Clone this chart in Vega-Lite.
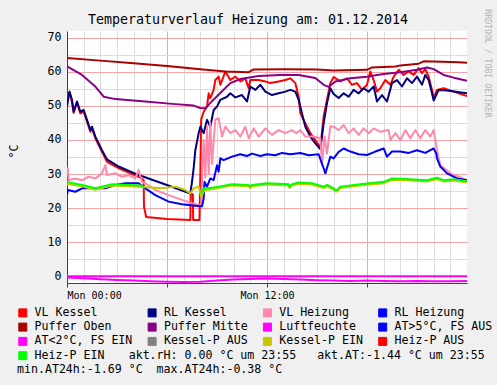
{
  "$schema": "https://vega.github.io/schema/vega-lite/v6.json",
  "width": 400,
  "height": 252,
  "autosize": "none",
  "padding": {"left": 67, "top": 31, "right": 30, "bottom": 102},
  "background": "#f0f0f0",
  "config": {
    "view": {"stroke": null, "fill": "#ffffff"},
    "font": "DejaVu Sans Mono"
  },
  "title": {
    "text": "Temperaturverlauf Heizung am: 01.12.2014",
    "anchor": "middle",
    "frame": "group",
    "dx": -19,
    "dy": 39,
    "offset": 10,
    "baseline": "alphabetic",
    "font": "DejaVu Sans Mono",
    "fontSize": 13.3,
    "fontWeight": "normal",
    "color": "#000000"
  },
  "data": {
    "values": [
      {"s":"VL Kessel","h":0,"v":52},{"s":"VL Kessel","h":0.15,"v":54},{"s":"VL Kessel","h":0.3,"v":51},{"s":"VL Kessel","h":0.4,"v":48},{"s":"VL Kessel","h":0.6,"v":51},{"s":"VL Kessel","h":0.8,"v":47.8},{"s":"VL Kessel","h":1.0,"v":48.3},{"s":"VL Kessel","h":1.2,"v":45.4},{"s":"VL Kessel","h":1.4,"v":42.4},{"s":"VL Kessel","h":1.5,"v":43.4},{"s":"VL Kessel","h":1.7,"v":40.5},{"s":"VL Kessel","h":2.1,"v":36.5},{"s":"VL Kessel","h":2.4,"v":33.6},{"s":"VL Kessel","h":3.1,"v":31.7},{"s":"VL Kessel","h":4.3,"v":29.2},{"s":"VL Kessel","h":4.6,"v":28.2},{"s":"VL Kessel","h":4.62,"v":20.4},{"s":"VL Kessel","h":4.75,"v":17.4},{"s":"VL Kessel","h":6.0,"v":16.8},{"s":"VL Kessel","h":7.4,"v":16.5},{"s":"VL Kessel","h":7.42,"v":24.3},{"s":"VL Kessel","h":7.55,"v":24},{"s":"VL Kessel","h":7.57,"v":16.5},{"s":"VL Kessel","h":7.95,"v":16.5},{"s":"VL Kessel","h":8.0,"v":30},{"s":"VL Kessel","h":8.05,"v":46},{"s":"VL Kessel","h":8.2,"v":48.3},{"s":"VL Kessel","h":8.4,"v":49.8},{"s":"VL Kessel","h":8.5,"v":53.7},{"s":"VL Kessel","h":8.6,"v":52.3},{"s":"VL Kessel","h":8.8,"v":54.7},{"s":"VL Kessel","h":8.9,"v":57.6},{"s":"VL Kessel","h":9.1,"v":58.6},{"s":"VL Kessel","h":9.2,"v":56.2},{"s":"VL Kessel","h":9.5,"v":60.1},{"s":"VL Kessel","h":9.8,"v":57.6},{"s":"VL Kessel","h":10.1,"v":58.6},{"s":"VL Kessel","h":10.4,"v":57.2},{"s":"VL Kessel","h":10.7,"v":58.1},{"s":"VL Kessel","h":10.9,"v":55.2},{"s":"VL Kessel","h":11.0,"v":57.6},{"s":"VL Kessel","h":11.5,"v":57.6},{"s":"VL Kessel","h":11.9,"v":57.2},{"s":"VL Kessel","h":12.2,"v":56.7},{"s":"VL Kessel","h":12.7,"v":57.2},{"s":"VL Kessel","h":13.1,"v":57.6},{"s":"VL Kessel","h":13.4,"v":58.1},{"s":"VL Kessel","h":13.7,"v":56.7},{"s":"VL Kessel","h":13.9,"v":52.7},{"s":"VL Kessel","h":14.0,"v":47.8},{"s":"VL Kessel","h":14.3,"v":44.9},{"s":"VL Kessel","h":14.6,"v":42},{"s":"VL Kessel","h":14.9,"v":40},{"s":"VL Kessel","h":15.1,"v":38.5},{"s":"VL Kessel","h":15.2,"v":37.6},{"s":"VL Kessel","h":15.4,"v":46.9},{"s":"VL Kessel","h":15.6,"v":51.8},{"s":"VL Kessel","h":15.8,"v":56.7},{"s":"VL Kessel","h":16.0,"v":58.5},{"s":"VL Kessel","h":16.4,"v":57.2},{"s":"VL Kessel","h":16.8,"v":58.1},{"s":"VL Kessel","h":17.1,"v":56.2},{"s":"VL Kessel","h":17.4,"v":56.7},{"s":"VL Kessel","h":17.7,"v":54.7},{"s":"VL Kessel","h":18.0,"v":56.2},{"s":"VL Kessel","h":18.2,"v":60.1},{"s":"VL Kessel","h":18.4,"v":57.6},{"s":"VL Kessel","h":18.6,"v":54.2},{"s":"VL Kessel","h":18.8,"v":55.2},{"s":"VL Kessel","h":19.1,"v":57.6},{"s":"VL Kessel","h":19.4,"v":56.2},{"s":"VL Kessel","h":19.6,"v":58.6},{"s":"VL Kessel","h":19.9,"v":60.6},{"s":"VL Kessel","h":20.2,"v":59.1},{"s":"VL Kessel","h":20.5,"v":60.1},{"s":"VL Kessel","h":20.8,"v":59.1},{"s":"VL Kessel","h":21.1,"v":61.1},{"s":"VL Kessel","h":21.3,"v":59.6},{"s":"VL Kessel","h":21.5,"v":60.8},{"s":"VL Kessel","h":21.7,"v":58.6},{"s":"VL Kessel","h":21.9,"v":54.7},{"s":"VL Kessel","h":22.0,"v":52.3},{"s":"VL Kessel","h":22.2,"v":54.7},{"s":"VL Kessel","h":22.6,"v":55.2},{"s":"VL Kessel","h":23.2,"v":54.2},{"s":"VL Kessel","h":24,"v":52.9},

      {"s":"RL Kessel","h":0,"v":49.8},{"s":"RL Kessel","h":0.15,"v":54.2},{"s":"RL Kessel","h":0.3,"v":51.8},{"s":"RL Kessel","h":0.4,"v":48.3},{"s":"RL Kessel","h":0.6,"v":51.3},{"s":"RL Kessel","h":0.8,"v":48.3},{"s":"RL Kessel","h":1.0,"v":48.8},{"s":"RL Kessel","h":1.2,"v":45.9},{"s":"RL Kessel","h":1.4,"v":42.9},{"s":"RL Kessel","h":1.5,"v":43.9},{"s":"RL Kessel","h":1.7,"v":41},{"s":"RL Kessel","h":2.1,"v":37},{"s":"RL Kessel","h":2.4,"v":34.3},{"s":"RL Kessel","h":3.1,"v":32.2},{"s":"RL Kessel","h":4.3,"v":29.7},{"s":"RL Kessel","h":5.7,"v":27.3},{"s":"RL Kessel","h":7.4,"v":24.3},{"s":"RL Kessel","h":7.5,"v":27.7},{"s":"RL Kessel","h":7.6,"v":31.7},{"s":"RL Kessel","h":7.7,"v":37},{"s":"RL Kessel","h":7.9,"v":42},{"s":"RL Kessel","h":8.0,"v":43.9},{"s":"RL Kessel","h":8.2,"v":42},{"s":"RL Kessel","h":8.4,"v":45.9},{"s":"RL Kessel","h":8.6,"v":43.9},{"s":"RL Kessel","h":8.8,"v":48.8},{"s":"RL Kessel","h":9.0,"v":49.8},{"s":"RL Kessel","h":9.2,"v":51.8},{"s":"RL Kessel","h":9.6,"v":52.7},{"s":"RL Kessel","h":9.8,"v":53.7},{"s":"RL Kessel","h":10.1,"v":52.5},{"s":"RL Kessel","h":10.5,"v":53.2},{"s":"RL Kessel","h":10.8,"v":51.3},{"s":"RL Kessel","h":11.0,"v":55.7},{"s":"RL Kessel","h":11.3,"v":54.7},{"s":"RL Kessel","h":11.6,"v":56.2},{"s":"RL Kessel","h":11.9,"v":54.2},{"s":"RL Kessel","h":12.3,"v":53.2},{"s":"RL Kessel","h":12.7,"v":53.7},{"s":"RL Kessel","h":13.1,"v":54.2},{"s":"RL Kessel","h":13.4,"v":54.7},{"s":"RL Kessel","h":13.7,"v":54.2},{"s":"RL Kessel","h":13.9,"v":51.8},{"s":"RL Kessel","h":14.1,"v":47.8},{"s":"RL Kessel","h":14.3,"v":43.9},{"s":"RL Kessel","h":14.6,"v":41},{"s":"RL Kessel","h":14.9,"v":39},{"s":"RL Kessel","h":15.2,"v":37.3},{"s":"RL Kessel","h":15.4,"v":44.9},{"s":"RL Kessel","h":15.6,"v":50.8},{"s":"RL Kessel","h":15.8,"v":55.2},{"s":"RL Kessel","h":16.0,"v":53.5},{"s":"RL Kessel","h":16.3,"v":52.3},{"s":"RL Kessel","h":16.6,"v":53.7},{"s":"RL Kessel","h":16.9,"v":52.7},{"s":"RL Kessel","h":17.2,"v":54.7},{"s":"RL Kessel","h":17.5,"v":53.7},{"s":"RL Kessel","h":17.8,"v":55.2},{"s":"RL Kessel","h":18.1,"v":54.2},{"s":"RL Kessel","h":18.4,"v":55.7},{"s":"RL Kessel","h":18.6,"v":51.3},{"s":"RL Kessel","h":18.9,"v":53.2},{"s":"RL Kessel","h":19.2,"v":51.3},{"s":"RL Kessel","h":19.5,"v":56.7},{"s":"RL Kessel","h":19.8,"v":57.6},{"s":"RL Kessel","h":20.1,"v":55.7},{"s":"RL Kessel","h":20.4,"v":58.1},{"s":"RL Kessel","h":20.7,"v":56.7},{"s":"RL Kessel","h":21.0,"v":58.6},{"s":"RL Kessel","h":21.3,"v":56.2},{"s":"RL Kessel","h":21.5,"v":59.1},{"s":"RL Kessel","h":21.7,"v":57.6},{"s":"RL Kessel","h":21.9,"v":53.7},{"s":"RL Kessel","h":22.0,"v":51.6},{"s":"RL Kessel","h":22.3,"v":54.7},{"s":"RL Kessel","h":22.8,"v":54.5},{"s":"RL Kessel","h":24,"v":53.7},

      {"s":"VL Heizung","h":0,"v":29.7},{"s":"VL Heizung","h":0.05,"v":31.7},{"s":"VL Heizung","h":0.1,"v":28.2},{"s":"VL Heizung","h":0.5,"v":28.7},{"s":"VL Heizung","h":0.9,"v":28.2},{"s":"VL Heizung","h":1.3,"v":29.2},{"s":"VL Heizung","h":1.7,"v":28.7},{"s":"VL Heizung","h":2.1,"v":30.2},{"s":"VL Heizung","h":2.3,"v":32.6},{"s":"VL Heizung","h":2.4,"v":29.7},{"s":"VL Heizung","h":2.9,"v":30.2},{"s":"VL Heizung","h":3.3,"v":29.2},{"s":"VL Heizung","h":3.7,"v":29.7},{"s":"VL Heizung","h":4.1,"v":28.7},{"s":"VL Heizung","h":4.3,"v":31.2},{"s":"VL Heizung","h":4.5,"v":27.7},{"s":"VL Heizung","h":4.7,"v":27.3},{"s":"VL Heizung","h":5.3,"v":25.3},{"s":"VL Heizung","h":6.1,"v":23.8},{"s":"VL Heizung","h":6.9,"v":22.4},{"s":"VL Heizung","h":7.5,"v":21.4},{"s":"VL Heizung","h":7.9,"v":20.9},{"s":"VL Heizung","h":8.05,"v":20.6},{"s":"VL Heizung","h":8.1,"v":28},{"s":"VL Heizung","h":8.2,"v":40},{"s":"VL Heizung","h":8.3,"v":29},{"s":"VL Heizung","h":8.4,"v":44},{"s":"VL Heizung","h":8.5,"v":30},{"s":"VL Heizung","h":8.6,"v":45},{"s":"VL Heizung","h":8.7,"v":33},{"s":"VL Heizung","h":8.9,"v":46},{"s":"VL Heizung","h":9.1,"v":46.4},{"s":"VL Heizung","h":9.3,"v":41},{"s":"VL Heizung","h":9.5,"v":43.9},{"s":"VL Heizung","h":9.8,"v":42},{"s":"VL Heizung","h":10.1,"v":42.9},{"s":"VL Heizung","h":10.4,"v":41},{"s":"VL Heizung","h":10.7,"v":43.9},{"s":"VL Heizung","h":10.9,"v":40.5},{"s":"VL Heizung","h":11.2,"v":43.4},{"s":"VL Heizung","h":11.5,"v":41},{"s":"VL Heizung","h":11.9,"v":43.4},{"s":"VL Heizung","h":12.3,"v":41.5},{"s":"VL Heizung","h":12.7,"v":42.9},{"s":"VL Heizung","h":13.1,"v":42},{"s":"VL Heizung","h":13.5,"v":42.9},{"s":"VL Heizung","h":13.75,"v":42},{"s":"VL Heizung","h":14.0,"v":42.9},{"s":"VL Heizung","h":14.3,"v":41},{"s":"VL Heizung","h":14.8,"v":41},{"s":"VL Heizung","h":15.2,"v":40.5},{"s":"VL Heizung","h":15.3,"v":33},{"s":"VL Heizung","h":15.45,"v":41},{"s":"VL Heizung","h":15.6,"v":36},{"s":"VL Heizung","h":15.8,"v":44},{"s":"VL Heizung","h":16.0,"v":43.9},{"s":"VL Heizung","h":16.3,"v":42.9},{"s":"VL Heizung","h":16.6,"v":44.4},{"s":"VL Heizung","h":16.9,"v":42},{"s":"VL Heizung","h":17.2,"v":43.4},{"s":"VL Heizung","h":17.5,"v":41.5},{"s":"VL Heizung","h":17.8,"v":43.4},{"s":"VL Heizung","h":18.1,"v":42},{"s":"VL Heizung","h":18.4,"v":43.4},{"s":"VL Heizung","h":18.8,"v":42.4},{"s":"VL Heizung","h":19.3,"v":42.9},{"s":"VL Heizung","h":19.4,"v":40},{"s":"VL Heizung","h":19.7,"v":42},{"s":"VL Heizung","h":20.0,"v":40},{"s":"VL Heizung","h":20.3,"v":42.9},{"s":"VL Heizung","h":20.6,"v":40.5},{"s":"VL Heizung","h":20.9,"v":42.9},{"s":"VL Heizung","h":21.2,"v":40.5},{"s":"VL Heizung","h":21.5,"v":42.9},{"s":"VL Heizung","h":21.8,"v":41},{"s":"VL Heizung","h":22.0,"v":42.9},{"s":"VL Heizung","h":22.2,"v":37},{"s":"VL Heizung","h":22.4,"v":32.6},{"s":"VL Heizung","h":23.0,"v":30.2},{"s":"VL Heizung","h":24,"v":28.2},

      {"s":"RL Heizung","h":0,"v":23.8},{"s":"RL Heizung","h":0.05,"v":25.3},{"s":"RL Heizung","h":0.5,"v":24.8},{"s":"RL Heizung","h":0.9,"v":25.8},{"s":"RL Heizung","h":1.7,"v":25.8},{"s":"RL Heizung","h":2.3,"v":25.8},{"s":"RL Heizung","h":2.9,"v":26.8},{"s":"RL Heizung","h":3.5,"v":27.3},{"s":"RL Heizung","h":4.3,"v":27.3},{"s":"RL Heizung","h":4.7,"v":25.8},{"s":"RL Heizung","h":5.3,"v":23.8},{"s":"RL Heizung","h":6.1,"v":21.9},{"s":"RL Heizung","h":6.9,"v":21.1},{"s":"RL Heizung","h":7.7,"v":20.7},{"s":"RL Heizung","h":8.1,"v":20.5},{"s":"RL Heizung","h":8.2,"v":22.8},{"s":"RL Heizung","h":8.25,"v":27.7},{"s":"RL Heizung","h":8.4,"v":26.3},{"s":"RL Heizung","h":8.6,"v":28.7},{"s":"RL Heizung","h":8.8,"v":28.2},{"s":"RL Heizung","h":9.0,"v":32.6},{"s":"RL Heizung","h":9.1,"v":30.7},{"s":"RL Heizung","h":9.2,"v":34.6},{"s":"RL Heizung","h":9.4,"v":34.1},{"s":"RL Heizung","h":9.9,"v":35.1},{"s":"RL Heizung","h":10.4,"v":35.8},{"s":"RL Heizung","h":10.8,"v":35.3},{"s":"RL Heizung","h":11.1,"v":36},{"s":"RL Heizung","h":11.6,"v":35.3},{"s":"RL Heizung","h":12.0,"v":35.8},{"s":"RL Heizung","h":12.5,"v":35.5},{"s":"RL Heizung","h":12.9,"v":36.2},{"s":"RL Heizung","h":13.4,"v":35.8},{"s":"RL Heizung","h":14.0,"v":36.2},{"s":"RL Heizung","h":14.5,"v":35.5},{"s":"RL Heizung","h":15.1,"v":35.8},{"s":"RL Heizung","h":15.3,"v":33},{"s":"RL Heizung","h":15.4,"v":31.7},{"s":"RL Heizung","h":15.5,"v":30.2},{"s":"RL Heizung","h":15.65,"v":32.6},{"s":"RL Heizung","h":15.8,"v":35.1},{"s":"RL Heizung","h":16.0,"v":34.6},{"s":"RL Heizung","h":16.3,"v":36.5},{"s":"RL Heizung","h":16.6,"v":37.5},{"s":"RL Heizung","h":17.0,"v":36.6},{"s":"RL Heizung","h":17.5,"v":35.8},{"s":"RL Heizung","h":18.0,"v":35.6},{"s":"RL Heizung","h":18.5,"v":36.6},{"s":"RL Heizung","h":19.0,"v":37.5},{"s":"RL Heizung","h":19.2,"v":35.1},{"s":"RL Heizung","h":19.5,"v":36.6},{"s":"RL Heizung","h":20.0,"v":36.6},{"s":"RL Heizung","h":20.5,"v":36.2},{"s":"RL Heizung","h":21.0,"v":37},{"s":"RL Heizung","h":21.5,"v":36.2},{"s":"RL Heizung","h":22.0,"v":37.5},{"s":"RL Heizung","h":22.15,"v":36.1},{"s":"RL Heizung","h":22.2,"v":34.6},{"s":"RL Heizung","h":22.4,"v":32.2},{"s":"RL Heizung","h":22.8,"v":30.2},{"s":"RL Heizung","h":23.4,"v":28.7},{"s":"RL Heizung","h":24,"v":28.2},

      {"s":"Puffer Oben","h":0,"v":64.1},{"s":"Puffer Oben","h":2,"v":63.3},{"s":"Puffer Oben","h":4,"v":62.5},{"s":"Puffer Oben","h":6,"v":61.7},{"s":"Puffer Oben","h":8,"v":60.8},{"s":"Puffer Oben","h":9.5,"v":60.1},{"s":"Puffer Oben","h":10.9,"v":59.9},{"s":"Puffer Oben","h":11.2,"v":60.7},{"s":"Puffer Oben","h":13,"v":60.8},{"s":"Puffer Oben","h":15,"v":60.7},{"s":"Puffer Oben","h":16,"v":60.4},{"s":"Puffer Oben","h":18,"v":60.6},{"s":"Puffer Oben","h":18.3,"v":61.3},{"s":"Puffer Oben","h":19.7,"v":61.6},{"s":"Puffer Oben","h":20,"v":61.9},{"s":"Puffer Oben","h":21.1,"v":62.4},{"s":"Puffer Oben","h":21.4,"v":63.1},{"s":"Puffer Oben","h":22.5,"v":63},{"s":"Puffer Oben","h":23.5,"v":62.8},{"s":"Puffer Oben","h":24,"v":62.7},

      {"s":"Puffer Mitte","h":0,"v":61.6},{"s":"Puffer Mitte","h":0.9,"v":59.1},{"s":"Puffer Mitte","h":1.7,"v":55.7},{"s":"Puffer Mitte","h":2.2,"v":52.7},{"s":"Puffer Mitte","h":2.9,"v":52},{"s":"Puffer Mitte","h":4.7,"v":51.3},{"s":"Puffer Mitte","h":6.3,"v":50.6},{"s":"Puffer Mitte","h":7.6,"v":50.1},{"s":"Puffer Mitte","h":8.0,"v":49.4},{"s":"Puffer Mitte","h":8.3,"v":49.3},{"s":"Puffer Mitte","h":8.6,"v":50.9},{"s":"Puffer Mitte","h":9.2,"v":53.8},{"s":"Puffer Mitte","h":9.8,"v":56.7},{"s":"Puffer Mitte","h":10.4,"v":57.9},{"s":"Puffer Mitte","h":11.5,"v":58.8},{"s":"Puffer Mitte","h":12.8,"v":59.1},{"s":"Puffer Mitte","h":13.9,"v":59.1},{"s":"Puffer Mitte","h":14.9,"v":58.2},{"s":"Puffer Mitte","h":15.4,"v":56.2},{"s":"Puffer Mitte","h":15.7,"v":55.6},{"s":"Puffer Mitte","h":16.1,"v":57.2},{"s":"Puffer Mitte","h":17,"v":58.1},{"s":"Puffer Mitte","h":18,"v":58.6},{"s":"Puffer Mitte","h":19,"v":59.4},{"s":"Puffer Mitte","h":20,"v":59.9},{"s":"Puffer Mitte","h":21,"v":60.6},{"s":"Puffer Mitte","h":21.6,"v":61.3},{"s":"Puffer Mitte","h":22,"v":60.8},{"s":"Puffer Mitte","h":22.6,"v":59.1},{"s":"Puffer Mitte","h":23.2,"v":58.3},{"s":"Puffer Mitte","h":24,"v":57.4},

      {"s":"Luftfeuchte","h":0,"v":0},{"s":"Luftfeuchte","h":24,"v":0},

      {"s":"AT<2°C, FS EIN","h":0,"v":-0.4},{"s":"AT<2°C, FS EIN","h":1,"v":-0.6},{"s":"AT<2°C, FS EIN","h":2,"v":-0.9},{"s":"AT<2°C, FS EIN","h":3,"v":-1.1},{"s":"AT<2°C, FS EIN","h":4,"v":-1.3},{"s":"AT<2°C, FS EIN","h":5,"v":-1.5},{"s":"AT<2°C, FS EIN","h":6,"v":-1.6},{"s":"AT<2°C, FS EIN","h":7,"v":-1.69},{"s":"AT<2°C, FS EIN","h":8,"v":-1.6},{"s":"AT<2°C, FS EIN","h":9,"v":-1.3},{"s":"AT<2°C, FS EIN","h":10,"v":-1.0},{"s":"AT<2°C, FS EIN","h":11,"v":-0.8},{"s":"AT<2°C, FS EIN","h":12,"v":-0.7},{"s":"AT<2°C, FS EIN","h":13,"v":-0.8},{"s":"AT<2°C, FS EIN","h":14,"v":-1.0},{"s":"AT<2°C, FS EIN","h":15,"v":-1.2},{"s":"AT<2°C, FS EIN","h":16,"v":-1.3},{"s":"AT<2°C, FS EIN","h":17,"v":-1.4},{"s":"AT<2°C, FS EIN","h":18,"v":-1.3},{"s":"AT<2°C, FS EIN","h":19,"v":-1.4},{"s":"AT<2°C, FS EIN","h":20,"v":-1.5},{"s":"AT<2°C, FS EIN","h":21,"v":-1.4},{"s":"AT<2°C, FS EIN","h":22,"v":-1.5},{"s":"AT<2°C, FS EIN","h":23,"v":-1.5},{"s":"AT<2°C, FS EIN","h":24,"v":-1.44},

      {"s":"Kessel-P EIN","h":0,"v":27.1},{"s":"Kessel-P EIN","h":0.9,"v":26.4},{"s":"Kessel-P EIN","h":1.7,"v":25.4},{"s":"Kessel-P EIN","h":2.1,"v":25.9},{"s":"Kessel-P EIN","h":2.7,"v":26.6},{"s":"Kessel-P EIN","h":3.7,"v":26.4},{"s":"Kessel-P EIN","h":4.5,"v":26.2},{"s":"Kessel-P EIN","h":4.65,"v":26.2},{"s":"Kessel-P EIN","h":5.7,"v":25.8},{"s":"Kessel-P EIN","h":6.5,"v":26.3},{"s":"Kessel-P EIN","h":7.1,"v":25.3},{"s":"Kessel-P EIN","h":7.4,"v":24.3},{"s":"Kessel-P EIN","h":7.6,"v":25.8},{"s":"Kessel-P EIN","h":7.9,"v":26.3},{"s":"Kessel-P EIN","h":8.05,"v":23.3},{"s":"Kessel-P EIN","h":8.25,"v":25.3},{"s":"Kessel-P EIN","h":8.5,"v":25.4},{"s":"Kessel-P EIN","h":9.1,"v":25.9},{"s":"Kessel-P EIN","h":9.9,"v":26.6},{"s":"Kessel-P EIN","h":10.9,"v":26.4},{"s":"Kessel-P EIN","h":11.0,"v":25.9},{"s":"Kessel-P EIN","h":11.1,"v":26.4},{"s":"Kessel-P EIN","h":12,"v":26.9},{"s":"Kessel-P EIN","h":13.3,"v":26.6},{"s":"Kessel-P EIN","h":13.35,"v":25.9},{"s":"Kessel-P EIN","h":13.5,"v":26.6},{"s":"Kessel-P EIN","h":13.9,"v":27.1},{"s":"Kessel-P EIN","h":14.7,"v":26.9},{"s":"Kessel-P EIN","h":15.4,"v":25.9},{"s":"Kessel-P EIN","h":15.6,"v":26.4},{"s":"Kessel-P EIN","h":16.0,"v":25.4},{"s":"Kessel-P EIN","h":16.1,"v":24.9},{"s":"Kessel-P EIN","h":16.2,"v":24.9},{"s":"Kessel-P EIN","h":16.4,"v":25.9},{"s":"Kessel-P EIN","h":17.6,"v":26.6},{"s":"Kessel-P EIN","h":19,"v":27.3},{"s":"Kessel-P EIN","h":19.5,"v":28.3},{"s":"Kessel-P EIN","h":20.6,"v":28.1},{"s":"Kessel-P EIN","h":21.6,"v":27.8},{"s":"Kessel-P EIN","h":22.2,"v":28.5},{"s":"Kessel-P EIN","h":22.6,"v":27.8},{"s":"Kessel-P EIN","h":23.2,"v":28.1},{"s":"Kessel-P EIN","h":24,"v":27.5},

      {"s":"Heiz-P EIN","h":0,"v":27.7},{"s":"Heiz-P EIN","h":0.9,"v":26.8},{"s":"Heiz-P EIN","h":1.7,"v":25.8},{"s":"Heiz-P EIN","h":2.1,"v":26.3},{"s":"Heiz-P EIN","h":2.7,"v":27},{"s":"Heiz-P EIN","h":3.7,"v":26.8},{"s":"Heiz-P EIN","h":4.5,"v":26.6},{"s":"Heiz-P EIN","h":4.65,"v":25.8},{"s":"Heiz-P EIN","h":6,"v":null},{"s":"Heiz-P EIN","h":8.05,"v":24.3},{"s":"Heiz-P EIN","h":8.2,"v":25.8},{"s":"Heiz-P EIN","h":8.5,"v":25.8},{"s":"Heiz-P EIN","h":9.1,"v":26.3},{"s":"Heiz-P EIN","h":9.9,"v":27},{"s":"Heiz-P EIN","h":10.9,"v":26.8},{"s":"Heiz-P EIN","h":11.0,"v":26.3},{"s":"Heiz-P EIN","h":11.1,"v":26.8},{"s":"Heiz-P EIN","h":12,"v":27.3},{"s":"Heiz-P EIN","h":13.3,"v":27},{"s":"Heiz-P EIN","h":13.35,"v":26.3},{"s":"Heiz-P EIN","h":13.5,"v":27},{"s":"Heiz-P EIN","h":13.9,"v":27.5},{"s":"Heiz-P EIN","h":14.7,"v":27.3},{"s":"Heiz-P EIN","h":15.4,"v":26.3},{"s":"Heiz-P EIN","h":15.6,"v":26.8},{"s":"Heiz-P EIN","h":16.0,"v":25.8},{"s":"Heiz-P EIN","h":16.1,"v":25.3},{"s":"Heiz-P EIN","h":16.2,"v":25.3},{"s":"Heiz-P EIN","h":16.4,"v":26.3},{"s":"Heiz-P EIN","h":17.6,"v":27},{"s":"Heiz-P EIN","h":19,"v":27.7},{"s":"Heiz-P EIN","h":19.5,"v":28.7},{"s":"Heiz-P EIN","h":20.6,"v":28.5},{"s":"Heiz-P EIN","h":21.6,"v":28.2},{"s":"Heiz-P EIN","h":22.2,"v":28.9},{"s":"Heiz-P EIN","h":22.6,"v":28.2},{"s":"Heiz-P EIN","h":23.2,"v":28.5},{"s":"Heiz-P EIN","h":24,"v":27.9}
    ]
  },
  "layer": [
    {
      "transform": [{"filter": "datum.s == 'VL Kessel'"}],
      "mark": {"type": "line", "strokeWidth": 2, "strokeJoin": "round", "clip": true},
      "encoding": {
        "x": {
          "field": "h", "type": "quantitative",
          "scale": {"domain": [0, 24], "nice": false, "zero": false},
          "axis": {"orient": "top", "values": [1,2,3,4,5,7,8,9,10,11,13,14,15,16,17,19,20,21,22,23], "grid": true, "gridColor": "#dcdcdc", "gridWidth": 1, "labels": false, "ticks": false, "domain": false, "title": null}
        },
        "y": {
          "field": "v", "type": "quantitative",
          "scale": {"domain": [-2, 72], "nice": false, "zero": false},
          "axis": {"orient": "right", "values": [5,15,25,35,45,55,65], "grid": true, "gridColor": "#dcdcdc", "gridWidth": 1, "labels": false, "ticks": false, "domain": false,
                   "title": "RRDTOOL / TOBI OETIKER", "titleAngle": 90, "titleX": 19, "titleY": 32, "titleBaseline": "middle", "titleAlign": "center", "titleColor": "#b4b4b4", "titleFont": "DejaVu Sans Mono", "titleFontSize": 8.2, "titleFontWeight": "normal"}
        },
        "color": {
          "field": "s", "type": "nominal",
          "scale": {
            "domain": ["VL Kessel","RL Kessel","VL Heizung","RL Heizung","Puffer Oben","Puffer Mitte","Luftfeuchte","AT>5°C, FS AUS","AT<2°C, FS EIN","Kessel-P AUS","Kessel-P EIN","Heiz-P AUS","Heiz-P EIN"],
            "range": ["#ff0000","#000080","#ff88aa","#0000ff","#aa0000","#880088","#ff00ff","#0000ff","#ff00ff","#808080","#c8c800","#ff0000","#00ff00"]
          },
          "legend": {
            "orient": "none", "legendX": -50, "legendY": 276,
            "direction": "horizontal", "columns": 4, "gridAlign": "each",
            "columnPadding": 12.3, "rowPadding": 1.3,
            "symbolType": "square", "symbolSize": 64, "symbolStrokeWidth": 1, "symbolStrokeColor": "#000000",
            "labelFont": "DejaVu Sans Mono", "labelFontSize": 11.6, "labelColor": "#000000", "labelOffset": 6, "labelLimit": 300,
            "title": ["\u200b\u00a0\u00a0\u00a0\u00a0\u00a0\u00a0\u00a0\u00a0\u00a0\u00a0\u00a0\u00a0\u00a0\u00a0\u00a0\u00a0akt.rH:\u00a00.00\u00a0°C\u00a0um\u00a023:55\u00a0\u00a0\u00a0akt.AT:-1.44\u00a0°C\u00a0um\u00a023:55", "min.AT24h:-1.69\u00a0°C\u00a0\u00a0max.AT24h:-0.38\u00a0°C"],
            "titleOrient": "bottom", "titleAnchor": "start", "titleAlign": "left", "titleFont": "DejaVu Sans Mono", "titleFontSize": 11.6, "titleFontWeight": "normal", "titleColor": "#000000", "titlePadding": -11.6, "titleLineHeight": 14.1, "titleLimit": 700,
            "encode": {"symbols": {"update": {"fill": {"scale": "color", "field": "value"}, "stroke": {"value": "#000000"}, "strokeWidth": {"value": 1}, "opacity": {"value": 1}}}}
          }
        }
      }
    },
    {
      "transform": [{"filter": "datum.s != 'VL Kessel'"}],
      "mark": {"type": "line", "strokeWidth": 2, "strokeJoin": "round", "clip": true},
      "encoding": {
        "x": {
          "field": "h", "type": "quantitative",
          "scale": {"domain": [0, 24], "nice": false, "zero": false},
          "axis": {"orient": "bottom", "values": [0, 6, 12, 18], "grid": true, "gridColor": "#f4a4a4", "gridWidth": 1,
                   "labelExpr": "datum.value == 0 ? 'Mon 00:00' : (datum.value == 12 ? 'Mon 12:00' : '')",
                   "labelFont": "DejaVu Sans Mono", "labelFontSize": 10, "labelColor": "#000000", "labelPadding": 3,
                   "ticks": true, "tickSize": 4, "tickColor": "#404040", "domain": true, "domainColor": "#404040", "title": null}
        },
        "y": {
          "field": "v", "type": "quantitative",
          "scale": {"domain": [-2, 72], "nice": false, "zero": false},
          "axis": {"orient": "left", "values": [0,10,20,30,40,50,60,70], "grid": true, "gridColor": "#f4a4a4", "gridWidth": 1,
                   "labelFont": "DejaVu Sans Mono", "labelFontSize": 11.6, "labelColor": "#000000", "labelPadding": 6,
                   "ticks": false, "domain": true, "domainColor": "#404040",
                   "title": "°C", "titleAngle": 270, "titleX": -53, "titleY": 120, "titleBaseline": "middle", "titleAlign": "center", "titleFont": "DejaVu Sans Mono", "titleFontSize": 11.6, "titleFontWeight": "normal", "titleColor": "#000000"}
        },
        "color": {
          "field": "s", "type": "nominal",
          "scale": {
            "domain": ["VL Kessel","RL Kessel","VL Heizung","RL Heizung","Puffer Oben","Puffer Mitte","Luftfeuchte","AT>5°C, FS AUS","AT<2°C, FS EIN","Kessel-P AUS","Kessel-P EIN","Heiz-P AUS","Heiz-P EIN"],
            "range": ["#ff0000","#000080","#ff88aa","#0000ff","#aa0000","#880088","#ff00ff","#0000ff","#ff00ff","#808080","#c8c800","#ff0000","#00ff00"]
          }
        }
      }
    }
  ],
  "resolve": {"axis": {"x": "independent", "y": "independent"}}
}
